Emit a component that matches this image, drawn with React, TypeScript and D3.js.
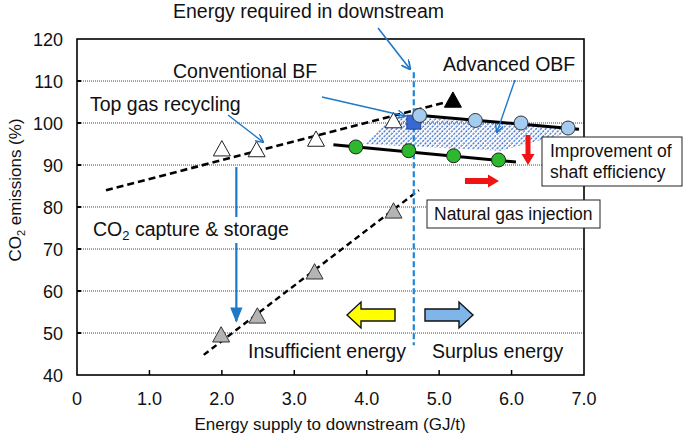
import React from 'react'
import * as d3 from 'd3'

// data (x: GJ/t, y: CO2 %)
const xTicks = [0, 1, 2, 3, 4, 5, 6, 7]
const yTicks = [40, 50, 60, 70, 80, 90, 100, 110, 120]

const recycleX = [2.0, 2.48, 3.3, 4.37]
const recycleY = [93.8, 93.6, 96.1, 100.5]
const recycleLineX = [0.4, 5.1]
const recycleLineY = [84.0, 105.0]

const bfX = [5.19]
const bfY = [105.4]
const requiredX = [4.65]
const requiredY = [100.2]

const obfX = [4.73, 5.5, 6.13, 6.78]
const obfY = [101.8, 100.6, 100.0, 98.8]
const obfLineX = [4.75, 6.93]
const obfLineY = [101.8, 98.5]

const shaftX = [3.85, 4.58, 5.2, 5.82]
const shaftY = [94.3, 93.4, 92.2, 91.2]
const shaftLineX = [3.54, 6.06]
const shaftLineY = [94.8, 90.7]

const gasX = [1.99, 2.49, 3.28, 4.37]
const gasY = [49.5, 54.0, 64.5, 79.0]
const gasLineX = [1.75, 4.72]
const gasLineY = [44.8, 84.0]

const areaX = [4.4, 6.95, 5.85, 3.95]
const areaY = [101.8, 98.4, 93.4, 95.0]

const requiredLineX = 4.65
const requiredLineY = [112.1, 47.1]
const ccsX = 2.2
const ccsY = [89.5, 52.8]

const W = 685, H = 443
const left = 77, right = 584, top = 39, bottom = 375
const font = 'Arial, "Liberation Sans", sans-serif'
const blue = '#1f78c8'
const big = 19.5

const x = d3.scaleLinear().domain([0, 7]).range([left, right])
const y = d3.scaleLinear().domain([40, 120]).range([bottom, top])

const tri = (cx: number, cy: number, s = 17) => {
  const h = s * 0.9
  return `M${cx},${cy - h * 0.55}L${cx + s / 2},${cy + h * 0.45}L${cx - s / 2},${cy + h * 0.45}Z`
}

const blockArrow = (x1: number, x2: number, cy: number, dir: number, sh: number, hh: number, hl: number) => {
  // x1 = tail, x2 = tip
  const hb = x2 - dir * hl
  return `M${x1},${cy - sh}L${hb},${cy - sh}L${hb},${cy - hh}L${x2},${cy}L${hb},${cy + hh}L${hb},${cy + sh}L${x1},${cy + sh}Z`
}

const vArrow = (cx: number, y1: number, y2: number, sw: number, hw: number, hl: number) => {
  const hb = y2 - hl
  return `M${cx - sw},${y1}L${cx + sw},${y1}L${cx + sw},${hb}L${cx + hw},${hb}L${cx},${y2}L${cx - hw},${hb}L${cx - sw},${hb}Z`
}

const line2 = (xs: number[], ys: number[]) =>
  d3.line<number>().x((_, i) => x(xs[i])).y((_, i) => y(ys[i]))(xs)

export default function App() {
  const area = d3.line<number>().x((_, i) => x(areaX[i])).y((_, i) => y(areaY[i]))(areaX) + 'Z'
  return (
    <svg width={W} height={H} style={{ display: 'block', position: 'absolute', left: 0, top: 0 }}
      fontFamily={font}>
      <defs>
        <pattern id="hatch" patternUnits="userSpaceOnUse" width={3.4} height={3.4} patternTransform="rotate(45)">
          <line x1={1} y1={0} x2={1} y2={3.4} stroke="#2f62c4" strokeWidth={1.2} strokeDasharray="2.4,1" />
        </pattern>
        <marker id="ah" viewBox="0 0 10 10" refX={9} refY={5} markerWidth={6} markerHeight={6} orient="auto">
          <path d="M0,0L10,5L0,10" fill="none" stroke={blue} strokeWidth={1.8} />
        </marker>
        <marker id="ahf" viewBox="0 0 10 10" refX={9} refY={5} markerWidth={7} markerHeight={7} orient="auto">
          <path d="M0,1L10,5L0,9Z" fill={blue} />
        </marker>
      </defs>
      <rect width={W} height={H} fill="#fff" />

      {/* grid */}
      {yTicks.slice(1, -1).map(t => (
        <g key={t}>
          <line x1={left} x2={right} y1={y(t)} y2={y(t)} stroke="#444" strokeWidth={1} strokeDasharray="1,1" />
          <line x1={left} x2={left + 4} y1={y(t)} y2={y(t)} stroke="#000" strokeWidth={2} />
        </g>
      ))}
      {xTicks.slice(1, -1).map(t => (
        <line key={t} x1={x(t)} x2={x(t)} y1={bottom} y2={bottom - 5} stroke="#000" strokeWidth={1.5} />
      ))}

      {/* hatched area */}
      <path d={area} fill="url(#hatch)" />

      {/* top gas recycling */}
      <path d={line2(recycleLineX, recycleLineY)!} stroke="#000" strokeWidth={2.6} strokeDasharray="7,4" fill="none" />
      {/* natural gas injection */}
      <path d={line2(gasLineX, gasLineY)!} stroke="#000" strokeWidth={2.4} strokeDasharray="6,4" fill="none" />
      {/* OBF lines */}
      <path d={line2(obfLineX, obfLineY)!} stroke="#000" strokeWidth={3} fill="none" />
      <path d={line2(shaftLineX, shaftLineY)!} stroke="#000" strokeWidth={3} fill="none" />

      {/* required energy line */}
      <line x1={x(requiredLineX)} x2={x(requiredLineX)} y1={y(requiredLineY[0])} y2={y(requiredLineY[1])}
        stroke="#1f86d6" strokeWidth={2.2} strokeDasharray="6,3" />

      {recycleX.map((v, i) => (
        <path key={i} d={tri(x(v), y(recycleY[i]))} fill="#fff" stroke="#222" strokeWidth={1} />
      ))}
      {gasX.map((v, i) => (
        <path key={i} d={tri(x(v), y(gasY[i]))} fill="#b4b4b4" stroke="#333" strokeWidth={1} />
      ))}
      {bfX.map((v, i) => (
        <path key={i} d={tri(x(v), y(bfY[i]))} fill="#000" stroke="#000" strokeWidth={1} />
      ))}
      {requiredX.map((v, i) => (
        <rect key={i} x={x(v) - 7} y={y(requiredY[i]) - 7} width={14} height={14} fill="#3668d8" stroke="#1a3a8a" strokeWidth={0.8} />
      ))}
      {obfX.map((v, i) => (
        <circle key={i} cx={x(v)} cy={y(obfY[i])} r={7} fill="#a4cbf0" stroke="#333" strokeWidth={1} />
      ))}
      {shaftX.map((v, i) => (
        <circle key={i} cx={x(v)} cy={y(shaftY[i])} r={7} fill="#2db82d" stroke="#222" strokeWidth={1} />
      ))}

      {/* frame */}
      <rect x={left} y={top} width={right - left} height={bottom - top} fill="none" stroke="#000" strokeWidth={1.6} />

      {/* axes labels */}
      {yTicks.map(t => (
        <text key={t} x={63} y={y(t) + 6.5} textAnchor="end" fontSize={18} fill="#111">{t}</text>
      ))}
      {xTicks.map(t => (
        <text key={t} x={x(t)} y={405} textAnchor="middle" fontSize={18} fill="#111">{t === 0 ? '0' : t.toFixed(1)}</text>
      ))}
      <text x={330} y={430} textAnchor="middle" fontSize={17} fill="#111">Energy supply to downstream (GJ/t)</text>
      <text transform="translate(21,190) rotate(-90)" textAnchor="middle" fontSize={17} fill="#111">
        CO<tspan fontSize={11} dy={4}>2</tspan><tspan dy={-4}> emissions (%)</tspan>
      </text>

      {/* annotations */}
      <text x={173} y={18} fontSize={big} fill="#111">Energy required in downstream</text>
      <line x1={378} y1={28} x2={410} y2={69} stroke={blue} strokeWidth={1.6} markerEnd="url(#ah)" />
      <text x={173} y={78} fontSize={big} fill="#111">Conventional BF</text>
      <line x1={322} y1={97} x2={405} y2={116} stroke={blue} strokeWidth={1.4} markerEnd="url(#ah)" />
      <text x={90} y={111} fontSize={big} fill="#111">Top gas recycling</text>
      <line x1={228} y1={115} x2={263} y2={142} stroke={blue} strokeWidth={1.4} markerEnd="url(#ah)" />
      <text x={443} y={71} fontSize={big} fill="#111">Advanced OBF</text>
      <line x1={515} y1={80} x2={497} y2={132} stroke={blue} strokeWidth={1.4} markerEnd="url(#ah)" />

      {/* CCS arrow */}
      <line x1={x(ccsX)} x2={x(ccsX)} y1={y(ccsY[0])} y2={y(ccsY[1])} stroke={blue} strokeWidth={2.2} markerEnd="url(#ahf)" />
      <rect x={90} y={217} width={202} height={26} fill="#fff" />
      <text x={93} y={236} fontSize={big} fill="#111">
        CO<tspan fontSize={13} dy={4}>2</tspan><tspan dy={-4}> capture &amp; storage</tspan>
      </text>

      {/* red arrows */}
      <path d={vArrow(528, 135, 165, 2.5, 6.5, 11)} fill="#f01414" />
      <path d={blockArrow(465, 499, 181, 1, 3, 6.5, 11)} fill="#f01414" />

      {/* boxes */}
      <rect x={542} y={137} width={140} height={49} fill="#fff" stroke="#222" strokeWidth={1} />
      <text x={550} y={157} fontSize={17.5} fill="#111">Improvement of</text>
      <text x={550} y={178} fontSize={17.5} fill="#111">shaft efficiency</text>
      <rect x={427} y={200} width={173} height={28} fill="#fff" stroke="#222" strokeWidth={1} />
      <text x={434} y={220} fontSize={17.5} fill="#111">Natural gas injection</text>

      {/* energy arrows */}
      <path d={blockArrow(395, 347, 315, -1, 6, 13, 14)} fill="#ffff00" stroke="#111" strokeWidth={1.4} />
      <path d={blockArrow(425, 473, 315, 1, 6, 13, 14)} fill="#7fb5e8" stroke="#111" strokeWidth={1.4} />
      <text x={248} y={358} fontSize={big} fill="#111">Insufficient energy</text>
      <text x={432} y={358} fontSize={big} fill="#111">Surplus energy</text>
    </svg>
  )
}
